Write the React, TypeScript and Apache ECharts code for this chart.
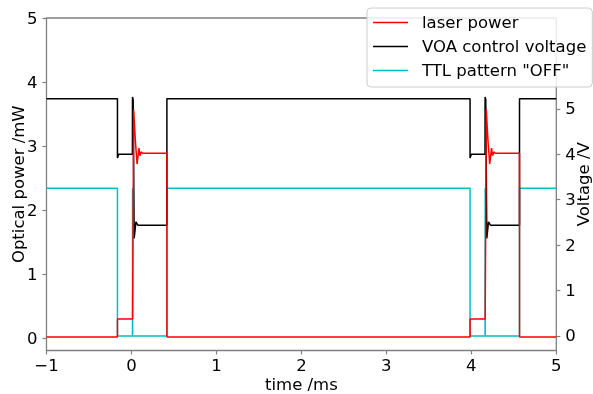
import React, { useEffect, useRef } from "react";
import * as echarts from "echarts";

// ---- data ----
const laserTime = [-1, -0.165, -0.165, 0.013, 0.026, 0.045, 0.066, 0.088, 0.1, 0.114, 0.13, 0.417, 0.417,
  3.985, 3.985, 4.163, 4.176, 4.195, 4.216, 4.238, 4.25, 4.264, 4.28, 4.567, 4.567, 5];
const laserPower = [0.02, 0.02, 0.3, 0.3, 3.57, 3.1, 2.72, 2.97, 2.85, 2.91, 2.89, 2.89, 0.02,
  0.02, 0.3, 0.3, 3.57, 3.1, 2.72, 2.97, 2.85, 2.91, 2.89, 2.89, 0.02, 0.02];

const voaTime = [-1, -0.165, -0.165, -0.15, 0.011, 0.012, 0.02, 0.032, 0.052, 0.075, 0.417, 0.417,
  3.985, 3.985, 4.0, 4.161, 4.162, 4.17, 4.182, 4.202, 4.225, 4.567, 4.567, 5];
const voaVoltage = [5.22, 5.22, 3.92, 4.0, 4.0, 5.26, 5.2, 2.15, 2.51, 2.44, 2.44, 5.22,
  5.22, 3.92, 4.0, 4.0, 5.26, 5.2, 2.15, 2.51, 2.44, 2.44, 5.22, 5.22];

const ttlTime = [-1, -0.165, -0.165, 0.012, 0.013, 0.014, 0.417, 0.417,
  3.985, 3.985, 4.162, 4.163, 4.164, 4.567, 4.567, 5];
const ttlVoltage = [3.25, 3.25, 0, 0, 3.25, 0, 0, 3.25,
  3.25, 0, 0, 3.25, 0, 0, 3.25, 3.25];

const xTicks = [-1, 0, 1, 2, 3, 4, 5];
const leftTicks = [0, 1, 2, 3, 4, 5];
const rightTicks = [0, 1, 2, 3, 4, 5];

const seriesNames = ["laser power", "VOA control voltage", 'TTL pattern "OFF"'];

const zip = (a: number[], b: number[]) => a.map((t, i) => [t, b[i]]);

const FONT = "DejaVu Sans";
const SPINE = "#808080";
const fmt = (v: number) => (v < 0 ? "\u2212" + Math.abs(v) : String(v));

export default function App() {
  const ref = useRef<HTMLDivElement>(null);
  useEffect(() => {
    if (!ref.current) return;
    const chart = echarts.init(ref.current, null, { renderer: "svg" });
    const common = {
      splitLine: { show: false },
      axisLine: { show: false },
      axisTick: { show: true, inside: false, length: 4, lineStyle: { color: SPINE, width: 1.2 } },
    };
    const nameStyle = { fontFamily: FONT, fontSize: 16.5, color: "#000" };
    chart.setOption({
      animation: false,
      textStyle: { fontFamily: FONT },
      grid: {
        left: 46.5, right: 36.7, top: 18, bottom: 43.5,
        containLabel: false, outerBoundsMode: "none",
        show: true, borderColor: SPINE, borderWidth: 1.3, backgroundColor: "transparent",
      },
      legend: {
        orient: "vertical",
        left: 367, top: 8,
        padding: [6, 6, 8, 6],
        icon: "rect",
        itemWidth: 35, itemHeight: 1.6, itemGap: 7,
        backgroundColor: "rgba(255,255,255,0.85)",
        borderColor: "#cccccc", borderWidth: 1, borderRadius: 4,
        textStyle: { fontFamily: FONT, fontSize: 16.5, color: "#000", padding: [0, 0, 0, 9] },
        data: seriesNames,
      },
      xAxis: {
        type: "value", min: -1, max: 5, interval: 1,
        ...common,
        axisLine: { show: false, onZero: false },
        axisLabel: {
          customValues: xTicks, formatter: fmt, color: "#000", fontSize: 16.5, fontFamily: FONT, margin: 6,
        },
        axisTick: { ...common.axisTick, customValues: xTicks },
        name: "time /ms", nameLocation: "middle", nameGap: 25, nameMoveOverlap: false,
        nameTextStyle: nameStyle,
      },
      yAxis: [
        {
          type: "value", position: "left", min: -0.19, max: 5,
          ...common,
          axisLine: { show: false, onZero: false },
          axisTick: { ...common.axisTick, customValues: leftTicks },
          axisLabel: { customValues: leftTicks, formatter: fmt, color: "#000", fontSize: 16.5, fontFamily: FONT, margin: 9 },
          name: "Optical power /mW", nameLocation: "middle", nameGap: 20, nameMoveOverlap: false,
          nameTextStyle: nameStyle,
        },
        {
          type: "value", position: "right", min: -0.32, max: 7,
          ...common,
          axisLine: { show: false, onZero: false },
          axisTick: { ...common.axisTick, customValues: rightTicks },
          axisLabel: { customValues: rightTicks, formatter: fmt, color: "#000", fontSize: 16.5, fontFamily: FONT, margin: 9 },
          name: "Voltage /V", nameLocation: "middle", nameGap: 19, nameMoveOverlap: false,
          nameTextStyle: nameStyle,
        },
      ],
      series: [
        {
          name: seriesNames[0], type: "line", yAxisIndex: 0, data: zip(laserTime, laserPower),
          symbol: "none", showSymbol: false, color: "#ff0000", lineStyle: { color: "#ff0000", width: 1.5 }, z: 3,
        },
        {
          name: seriesNames[1], type: "line", yAxisIndex: 1, data: zip(voaTime, voaVoltage),
          symbol: "none", showSymbol: false, color: "#000000", lineStyle: { color: "#000000", width: 1.5 }, z: 2,
        },
        {
          name: seriesNames[2], type: "line", yAxisIndex: 1, data: zip(ttlTime, ttlVoltage),
          symbol: "none", showSymbol: false, color: "#00bfbf", lineStyle: { color: "#00bfbf", width: 1.5 }, z: 1,
        },
      ],
    });
    return () => chart.dispose();
  }, []);
  return <div ref={ref} style={{ position: "fixed", left: 0, top: 0, width: 593, height: 394 }} />;
}
